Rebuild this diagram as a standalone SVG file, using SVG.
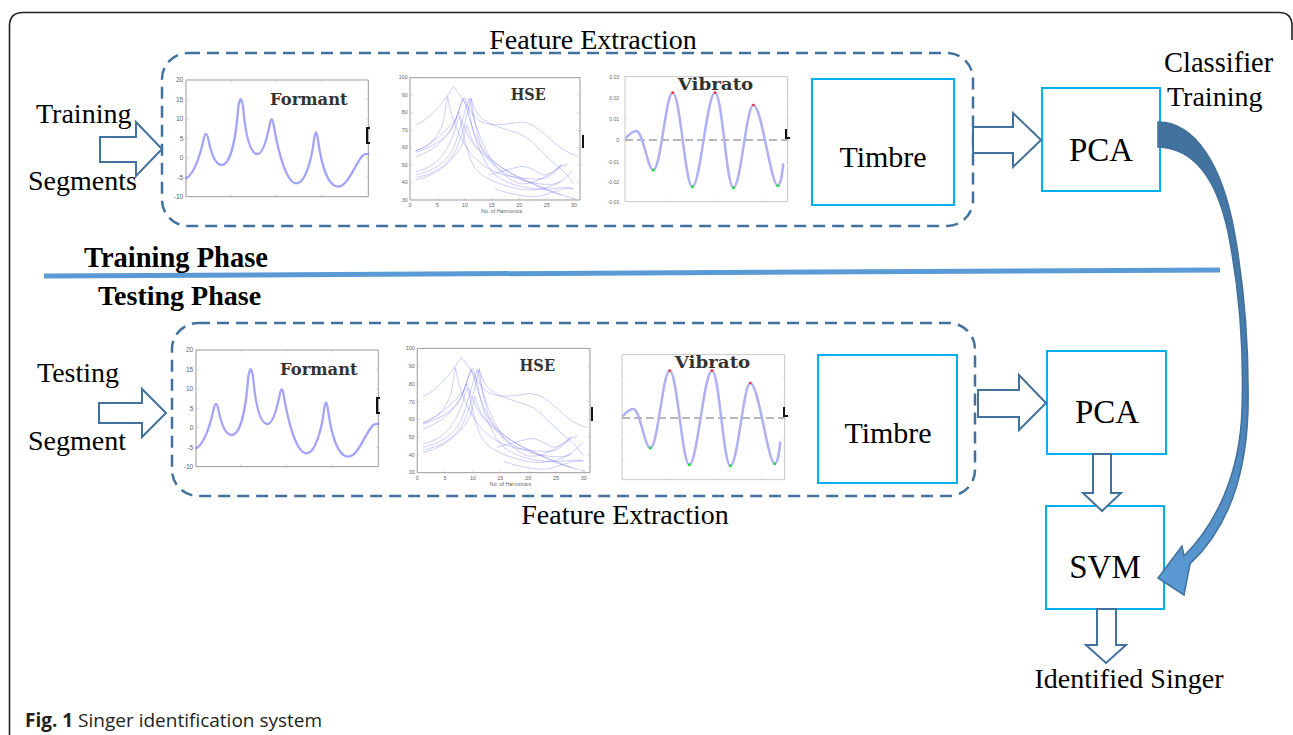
<svg xmlns="http://www.w3.org/2000/svg" width="1293" height="735" viewBox="0 0 1293 735">
  <style>
    .lbl { font-family: "Liberation Serif", "Times New Roman", serif; font-size: 28px; fill: #000; }
    .phase { font-family: "Liberation Serif", "Times New Roman", serif; font-size: 28px; font-weight: bold; fill: #000; }
    .box { fill: #fff; stroke: #00B0F0; stroke-width: 2; }
    .dash { fill: none; stroke: #41719C; stroke-width: 2.5; stroke-dasharray: 12 7; }
    .hollow { fill: #fff; stroke: #41719C; stroke-width: 2; stroke-linejoin: miter; }
    .axis { fill: none; stroke: #9a9a9a; stroke-width: 1; vector-effect: non-scaling-stroke; }
    .tick { font-family: "Liberation Sans", Arial, sans-serif; font-size: 20px; fill: #666; }
    .ptitle { font-family: "DejaVu Serif", serif; font-weight: bold; font-size: 48px; fill: #333; }
    .trace { fill: none; stroke: #8585f6; stroke-width: 2.3; stroke-opacity: 0.75; stroke-linecap: round; vector-effect: non-scaling-stroke; }
    .thin { fill: none; stroke: #5c5cee; stroke-width: 1.1; stroke-opacity: 0.85; vector-effect: non-scaling-stroke; }
    .vib { fill: none; stroke: #b0b0f4; stroke-width: 2.5; vector-effect: non-scaling-stroke; }
    .mark { fill: none; stroke: #111; stroke-width: 2; }
  </style>
  <defs>
    <linearGradient id="bend" x1="0" y1="0" x2="0" y2="1">
      <stop offset="0" stop-color="#41719C"/>
      <stop offset="0.55" stop-color="#4a7fb2"/>
      <stop offset="1" stop-color="#5B9BD5"/>
    </linearGradient>

    <!-- formant envelope plot, drawn at 3x and scaled down -->
    <g id="formantPlot">
      <rect x="78" y="60" width="547" height="350" class="axis"/>
      <g class="axis">
        <path d="M213,410 v-8 M348,410 v-8 M485,410 v-8 M213,60 v8 M348,60 v8 M485,60 v8"/>
        <path d="M78,118 h8 M78,177 h8 M78,235 h8 M78,293 h8 M78,352 h8 M625,118 h-8 M625,177 h-8 M625,235 h-8 M625,293 h-8 M625,352 h-8"/>
      </g>
      <g class="tick" text-anchor="end">
        <text x="70" y="67">20</text>
        <text x="70" y="125">15</text>
        <text x="70" y="184">10</text>
        <text x="70" y="242">5</text>
        <text x="70" y="300">0</text>
        <text x="70" y="359">-5</text>
        <text x="70" y="417">-10</text>
      </g>
      <path class="trace" d="M78,355 C100,345 120,290 131,238 Q138,205 145,238 C155,290 168,315 185,315 C207,315 226,260 235,140 Q242,95 249,140 C258,240 272,282 292,282 C310,282 322,230 329,195 Q335,160 341,195 C355,280 380,370 410,370 C435,370 455,300 462,240 Q468,195 474,240 C485,320 505,380 535,380 C565,380 590,300 610,285 C617,281 622,282 625,282"/>
      <text class="ptitle" x="330" y="135" textLength="233" lengthAdjust="spacingAndGlyphs">Formant</text>
    </g>

    <!-- harmonic spectral envelope plot -->
    <g id="hsePlot">
      <rect x="45" y="38" width="510" height="367" class="axis"/>
      <g class="axis">
        <path d="M127,405 v-8 M210,405 v-8 M290,405 v-8 M373,405 v-8 M455,405 v-8 M537,405 v-8"/>
        <path d="M45,90 h8 M45,143 h8 M45,196 h8 M45,248 h8 M45,300 h8 M45,353 h8 M555,90 h-8 M555,143 h-8 M555,196 h-8 M555,248 h-8 M555,300 h-8 M555,353 h-8"/>
      </g>
      <g class="tick" text-anchor="end" style="font-size:16px">
        <text x="38" y="43">100</text>
        <text x="38" y="95">90</text>
        <text x="38" y="148">80</text>
        <text x="38" y="201">70</text>
        <text x="38" y="253">60</text>
        <text x="38" y="305">50</text>
        <text x="38" y="358">40</text>
        <text x="38" y="410">30</text>
      </g>
      <g class="tick" text-anchor="middle" style="font-size:16px">
        <text x="45" y="426">0</text>
        <text x="127" y="426">5</text>
        <text x="210" y="426">10</text>
        <text x="290" y="426">15</text>
        <text x="373" y="426">20</text>
        <text x="455" y="426">25</text>
        <text x="537" y="426">30</text>
        <text x="320" y="444">No. of Harmonics</text>
      </g>
      <g class="thin">
        <path d="M62,180 C100,165 140,120 175,65 C200,90 220,140 250,165 C280,185 320,180 370,172 C410,168 440,200 480,235 C510,260 530,268 548,272"/>
        <path d="M62,258 C100,245 130,220 145,170 C150,140 155,110 158,95 C165,140 180,190 210,240 C240,290 280,320 340,333 C380,340 420,345 450,340 C475,330 490,312 500,298"/>
        <path d="M62,262 C100,250 140,230 165,200 C185,170 195,120 205,100 C215,130 225,170 240,210 C260,260 290,300 330,325 C370,345 420,360 470,358 C500,355 520,330 530,318"/>
        <path d="M62,275 C110,260 150,230 180,170 C190,140 200,100 210,98 C220,120 225,160 235,200 C250,250 270,300 300,330 C340,360 400,375 460,372 C490,370 510,365 535,370"/>
        <path d="M62,320 C110,310 160,280 188,165 L193,155 C205,200 215,270 240,310 C270,345 320,360 370,372 C420,380 460,370 500,350"/>
        <path d="M62,330 C110,318 150,300 175,250 C190,215 205,150 222,100 C230,140 245,200 275,260 C300,305 330,340 370,355 C400,362 440,345 490,310 C500,303 510,300 518,298"/>
        <path d="M62,338 C110,328 150,310 180,260 C195,230 210,180 228,98 C234,150 242,190 255,235 C270,270 300,300 350,325 C400,350 450,378 500,390 C520,395 535,400 540,402"/>
        <path d="M62,345 C110,336 170,300 200,240 C205,230 210,200 215,180 C222,200 228,225 245,245 C275,275 330,320 380,342 C420,358 460,375 500,390"/>
        <path d="M62,258 C110,240 150,200 178,168 C185,158 188,145 192,142 C200,170 215,210 240,245 C262,270 290,290 300,305"/>
        <path d="M228,100 C240,140 250,160 290,178 C330,195 360,198 390,215 C420,235 450,275 490,305 C510,320 525,340 535,355"/>
        <path d="M280,330 C320,320 350,310 375,305 C400,300 420,320 445,330 C470,330 490,305 500,298"/>
        <path d="M300,372 C340,385 380,395 420,395 C450,393 470,380 500,373 C515,370 525,370 535,371"/>
      </g>
      <text class="ptitle" x="347" y="105" textLength="105" lengthAdjust="spacingAndGlyphs">HSE</text>
    </g>

    <!-- vibrato trace plot -->
    <g id="vibPlot">
      <path class="axis" style="stroke:#c8c8c8" d="M60,35 H548 V410 H60 Z"/>
      <g class="axis" style="stroke:#bdbdbd">
        <path d="M200,410 v-8 M338,410 v-8 M478,410 v-8 M548,100 h-8 M548,162 h-8 M548,290 h-8 M548,352 h-8 M60,100 h8 M60,162 h8 M60,290 h8 M60,352 h8"/>
      </g>
      <line x1="60" y1="225" x2="548" y2="225" stroke="#a0a0a0" stroke-width="4" stroke-dasharray="24 12"/>
      <path class="vib" d="M62,220 C72,208 85,196 95,198 C115,203 128,315 145,315 C168,315 182,83 203,83 C226,83 240,365 262,365 C286,365 306,83 330,83 C352,83 364,368 385,368 C408,368 424,120 445,120 C470,120 498,362 518,362 C528,362 532,320 535,295"/>
      <g fill="#22dd44">
        <circle cx="145" cy="315" r="4.5"/>
        <circle cx="262" cy="365" r="4.5"/>
        <circle cx="385" cy="368" r="4.5"/>
        <circle cx="518" cy="362" r="4.5"/>
      </g>
      <g fill="#ee3333">
        <circle cx="203" cy="83" r="4"/>
        <circle cx="330" cy="83" r="4"/>
        <circle cx="445" cy="120" r="4"/>
      </g>
      <text class="ptitle" x="218" y="75" textLength="227" lengthAdjust="spacingAndGlyphs">Vibrato</text>
    </g>
  </defs>

  <!-- figure frame -->
  <g id="frame">
    <path d="M9.5,735 V26 Q9.5,12.5 23,12.5 H1279 Q1292,12.5 1292,26 V40" fill="none" stroke="#222" stroke-width="1.6"/>
  </g>

  <!-- training phase -->
  <g id="feature-extraction-train">
    <rect class="dash" x="162" y="53" width="811" height="173" rx="26"/>
    <text class="lbl" x="593" y="49" text-anchor="middle">Feature Extraction</text>
  </g>
  <g id="formant-train">
    <use href="#formantPlot" transform="translate(160 60) scale(0.33333)"/>
    <path class="mark" d="M370,128 H367 V143 H370"/>
  </g>
  <g id="hse-train">
    <use href="#hsePlot" transform="translate(395 65) scale(0.33333)"/>
    <path class="mark" d="M583,135 V148"/>
  </g>
  <g id="vibrato-train">
    <use href="#vibPlot" transform="translate(605 65) scale(0.33333)"/>
    <g class="tick" text-anchor="end" style="font-size:5px">
      <text x="619" y="79">0.03</text>
      <text x="619" y="100">0.02</text>
      <text x="619" y="121">0.01</text>
      <text x="619" y="142">0</text>
      <text x="619" y="164">-0.01</text>
      <text x="619" y="184">-0.02</text>
      <text x="619" y="204">-0.03</text>
    </g>
    <path class="mark" d="M786,129 V138 H790"/>
  </g>
  <g id="timbre-train">
    <rect class="box" x="812" y="79" width="142" height="126"/>
    <text class="lbl" x="883" y="167" text-anchor="middle" style="font-size:30px">Timbre</text>
  </g>
  <g id="pca-train">
    <rect class="box" x="1042" y="88" width="118" height="103"/>
    <text class="lbl" x="1101" y="161" text-anchor="middle" style="font-size:33px">PCA</text>
  </g>
  <g id="training-segments">
    <text class="lbl" x="36" y="123">Training</text>
    <text class="lbl" x="28" y="190">Segments</text>
  </g>
  <g id="classifier-training">
    <text class="lbl" x="1164" y="72" style="font-size:28.5px">Classifier</text>
    <text class="lbl" x="1167" y="106">Training</text>
  </g>

  <!-- phase separator -->
  <g id="phases">
    <line x1="44" y1="276" x2="1220" y2="270" stroke="#5B9BD5" stroke-width="5"/>
    <text class="phase" x="84" y="267" style="font-size:28.5px">Training Phase</text>
    <text class="phase" x="98" y="305">Testing Phase</text>
  </g>

  <!-- testing phase -->
  <g id="feature-extraction-test">
    <rect class="dash" x="172" y="323" width="803" height="173" rx="26"/>
    <text class="lbl" x="625" y="524" text-anchor="middle">Feature Extraction</text>
  </g>
  <g id="formant-test">
    <use href="#formantPlot" transform="translate(170 330) scale(0.33333)"/>
    <path class="mark" d="M380,398 H377 V413 H380"/>
  </g>
  <g id="hse-test">
    <use href="#hsePlot" transform="translate(402 335.5) scale(0.3387)"/>
    <path class="mark" d="M592,407 V421"/>
  </g>
  <g id="vibrato-test">
    <use href="#vibPlot" transform="translate(602 343) scale(0.33333)"/>
    <path class="mark" d="M784,407 V416 H788"/>
  </g>
  <g id="timbre-test">
    <rect class="box" x="818" y="355" width="139" height="128"/>
    <text class="lbl" x="888" y="443" text-anchor="middle" style="font-size:30px">Timbre</text>
  </g>
  <g id="pca-test">
    <rect class="box" x="1047" y="351" width="119" height="103"/>
    <text class="lbl" x="1107" y="423" text-anchor="middle" style="font-size:33px">PCA</text>
  </g>
  <g id="svm">
    <rect class="box" x="1046" y="506" width="118" height="103"/>
    <text class="lbl" x="1105" y="578" text-anchor="middle" style="font-size:33px">SVM</text>
  </g>
  <g id="testing-segment">
    <text class="lbl" x="37" y="382">Testing</text>
    <text class="lbl" x="28" y="450">Segment</text>
  </g>
  <g id="identified-singer">
    <text class="lbl" x="1129" y="688" text-anchor="middle">Identified Singer</text>
  </g>

  <!-- connectors -->
  <g id="connectors">
    <polygon class="hollow" points="100,137 136,137 136,122 162,149 136,176 136,162 100,162"/>
    <polygon class="hollow" points="99,403 142,403 142,389 166,413 142,437 142,423 99,423"/>
    <polygon class="hollow" points="973,127 1013,127 1013,113 1041,140 1013,167 1013,153 973,153"/>
    <polygon class="hollow" points="978,390 1019,390 1019,375 1046,403 1019,430 1019,417 978,417"/>
    <polygon class="hollow" points="1093,454 1111,454 1111,493 1121,493 1102,511 1083,493 1093,493"/>
    <polygon class="hollow" points="1097,609 1116,609 1116,645 1126,645 1106,663 1086,645 1097,645"/>
    <!-- curved arrow: trained classifier model handed to the SVM -->
    <path d="M1158,122 C1195,122 1222,165 1234,230 C1245,290 1249,350 1248,410 C1246,480 1226,530 1190,564 L1184,595 L1158,578 L1182,546 L1184,556 C1216,524 1240,474 1242,410 C1244,350 1240,292 1228,232 C1216,176 1192,148 1158,147 Z" fill="url(#bend)" stroke="#41719C" stroke-width="1.5" stroke-linejoin="miter"/>
  </g>

  <!-- caption -->
  <g id="caption">
    <text x="25" y="727" style="font-family:'Open Sans','Noto Sans',sans-serif;font-size:19px;fill:#231f20"><tspan font-weight="bold">Fig. 1</tspan> Singer identification system</text>
  </g>
</svg>
